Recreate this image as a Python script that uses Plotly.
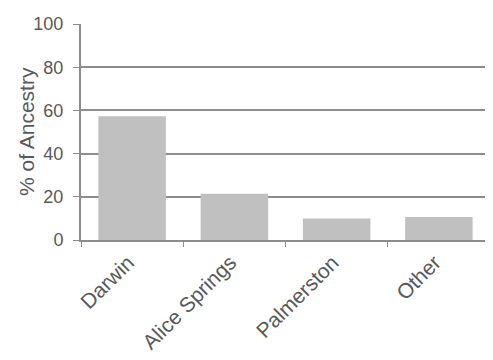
import plotly.graph_objects as go

categories = ["Darwin", "Alice Springs", "Palmerston", "Other"]
values = [57.3, 21.4, 10.0, 10.7]
y_ticks = [0, 20, 40, 60, 80, 100]
y_title = "% of Ancestry"

fig = go.Figure(go.Bar(x=categories, y=values, marker=dict(color="#c0c0c0", line=dict(width=0))))
fig.update_layout(
    width=493, height=360,
    margin=dict(l=73, r=11, t=16, b=128, autoexpand=False),
    paper_bgcolor="white", plot_bgcolor="white",
    bargap=0.34,
    font=dict(family="Liberation Sans, Arial", color="#595959", size=18),
    showlegend=False,
)
fig.add_annotation(
    text=y_title, xref="paper", yref="paper", x=0, y=0.5, xanchor="center", yanchor="middle",
    xshift=-55, textangle=-90, showarrow=False, font=dict(size=21, color="#595959"),
)
fig.update_yaxes(
    range=[0, 100], tickvals=y_ticks, showgrid=True, gridcolor="#8c8c8c", gridwidth=1.5,
    showline=True, linecolor="#8c8c8c", linewidth=2, ticks="outside", ticklen=6, tickcolor="#8c8c8c",
    zeroline=False, tickfont=dict(size=18), automargin=False, ticklabelstandoff=6,
)
fig.update_xaxes(
    showline=True, linecolor="#8c8c8c", linewidth=2, ticks="outside", ticklen=5, tickcolor="#8c8c8c",
    tickson="boundaries", tickangle=-45, tickfont=dict(size=21), automargin=False,
    ticklabelshift=-4,
)
fig.write_html("out.html")
